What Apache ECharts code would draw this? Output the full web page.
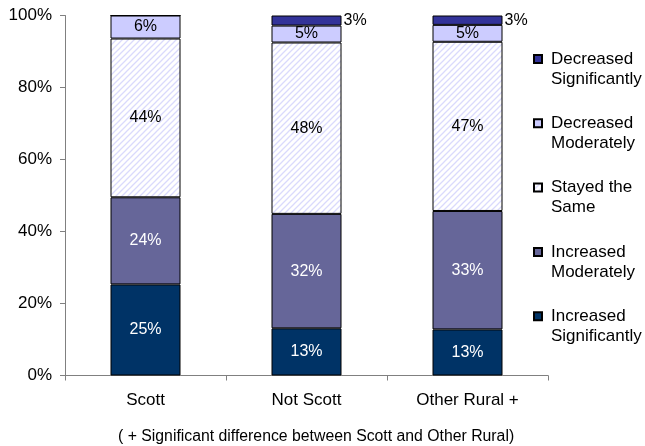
<!DOCTYPE html>
<html>
<head>
<meta charset="utf-8">
<script src="https://cdn.jsdelivr.net/npm/echarts@6/dist/echarts.min.js"></script>
<style>
html,body{margin:0;padding:0;background:#fff;}
#chart{width:645px;height:446px;}
</style>
</head>
<body>
<div id="chart"></div>
<script>
var categories = ['Scott', 'Not Scott', 'Other Rural +'];
var increasedSignificantly = [25.3, 13.1, 12.8];
var increasedModerately = [24.2, 31.8, 32.9];
var stayedSame = [44.1, 47.6, 47.0];
var decreasedModerately = [6.4, 4.7, 4.7];
var decreasedSignificantly = [0, 2.8, 2.6];
var yTicks = [0, 20, 40, 60, 80, 100];
var footnote = '( + Significant difference between Scott and Other Rural)';

var FONT = '"Liberation Sans", Arial, sans-serif';

// hatch pattern
var pc = document.createElement('canvas');
pc.width = 6; pc.height = 6;
var ctx = pc.getContext('2d');
ctx.fillStyle = '#ffffff';
ctx.fillRect(0, 0, 6, 6);
ctx.strokeStyle = '#dadafc';
ctx.lineWidth = 1.3;
ctx.beginPath();
ctx.moveTo(-1, 7); ctx.lineTo(7, -1);
ctx.moveTo(-1, 1); ctx.lineTo(1, -1);
ctx.moveTo(5, 7); ctx.lineTo(7, 5);
ctx.stroke();

function lbl(color, pos) {
  return {
    show: true,
    position: pos || 'inside',
    color: color,
    fontFamily: FONT,
    fontSize: 16,
    distance: 2,
    formatter: function (p) { return p.value > 0 ? Math.round(p.value) + '%' : ''; }
  };
}

function mk(name, data, color, labelColor, pos) {
  return {
    name: name,
    type: 'bar',
    stack: 'total',
    barWidth: 70,
    data: data,
    itemStyle: { color: color, borderColor: '#000', borderWidth: 1 },
    label: lbl(labelColor, pos),
    emphasis: { disabled: true }
  };
}

var chart = echarts.init(document.getElementById('chart'), null, { renderer: 'canvas' });
chart.setOption({
  animation: false,
  grid: { left: 65, right: 97, top: 15.5, bottom: 70.5, containLabel: false },
  title: {
    text: footnote,
    left: 118,
    top: 429,
    padding: 0,
    textStyle: { fontFamily: FONT, fontSize: 15.8, fontWeight: 'normal', color: '#000' }
  },
  legend: {
    orient: 'vertical',
    left: 533,
    top: 29,
    padding: 0,
    icon: 'rect',
    itemWidth: 8,
    itemHeight: 8,
    itemGap: 4.3,
    data: ['Decreased Significantly', 'Decreased Moderately', 'Stayed the Same', 'Increased Moderately', 'Increased Significantly'],
    formatter: function (n) {
      var m = {
        'Decreased Significantly': 'Decreased\nSignificantly',
        'Decreased Moderately': 'Decreased\nModerately',
        'Stayed the Same': 'Stayed the\nSame',
        'Increased Moderately': 'Increased\nModerately',
        'Increased Significantly': 'Increased\nSignificantly'
      };
      return '\u00a0\n' + m[n];
    },
    textStyle: { fontFamily: FONT, fontSize: 17, lineHeight: 20, color: '#000', padding: [0, 0, 0, 4] },
    selectedMode: false
  },
  xAxis: {
    type: 'category',
    data: categories,
    axisLine: { lineStyle: { color: '#808080', width: 1 } },
    axisTick: { show: true, length: 5, lineStyle: { color: '#808080' } },
    axisLabel: { fontFamily: FONT, fontSize: 17, color: '#000', margin: 16 }
  },
  yAxis: {
    type: 'value',
    min: 0,
    max: 100,
    interval: 20,
    splitLine: { show: false },
    axisLine: { show: true, lineStyle: { color: '#808080', width: 1 } },
    axisTick: { show: true, length: 5, lineStyle: { color: '#808080' } },
    axisLabel: {
      fontFamily: FONT, fontSize: 17, color: '#000', margin: 13,
      formatter: function (v) { return yTicks.indexOf(v) >= 0 ? v + '%' : ''; }
    }
  },
  series: [
    mk('Increased Significantly', increasedSignificantly, '#003366', '#ffffff'),
    mk('Increased Moderately', increasedModerately, '#666699', '#ffffff'),
    mk('Stayed the Same', stayedSame, { image: pc, repeat: 'repeat' }, '#000000'),
    mk('Decreased Moderately', decreasedModerately, '#ccccff', '#000000'),
    mk('Decreased Significantly', decreasedSignificantly, '#333399', '#000000', 'right')
  ]
});
</script>
</body>
</html>
